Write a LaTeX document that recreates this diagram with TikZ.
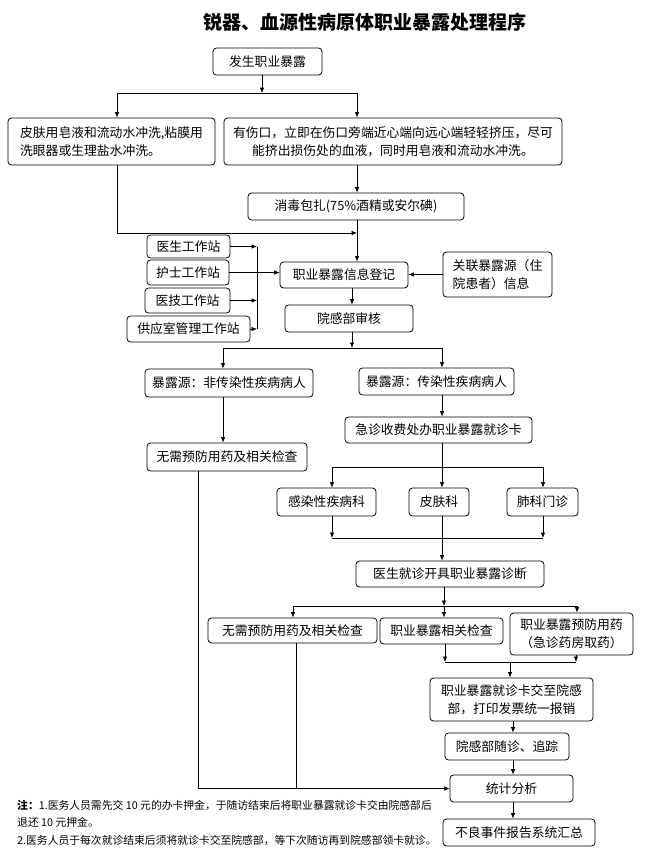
\documentclass[tikz,border=0pt]{standalone}
\usepackage{fontspec}
\setmainfont{Noto Sans CJK SC}
\usetikzlibrary{arrows.meta}

\begin{document}
\begin{tikzpicture}[x=1pt,y=-1pt,
  box/.style 2 args={draw,rounded corners=3.5pt,line width=0.8pt,
    minimum width=#1,minimum height=#2,inner sep=1pt,
    font=\fontsize{12.8}{18}\selectfont},
  wire/.style={line width=0.7pt},
  arr/.style={wire,-{Latex[length=5.5pt,width=4.5pt]}},
  note/.style={anchor=west,inner sep=0pt,font=\fontsize{10.8}{13}\selectfont}]
  \useasboundingbox (0,0) rectangle (646,859);

  \node[font=\bfseries\fontsize{19}{22}\selectfont] (title) at (365,22) {锐器、血源性病原体职业暴露处理程序};

  % first steps
  \node[box={109pt}{27pt}] (start) at (267.5,61.5) {发生职业暴露};
  \node[box={207pt}{47pt},align=left] (skin) at (111.5,141.5) {皮肤用皂液和流动水冲洗,粘膜用\\洗眼器或生理盐水冲洗。};
  \node[box={338pt}{47pt},align=center] (wound) at (393,141.5) {有伤口，立即在伤口旁端近心端向远心端轻轻挤压，尽可\\能挤出损伤处的血液，同时用皂液和流动水冲洗。};
  \node[box={216pt}{27pt}] (disinfect) at (356,206.5) {消毒包扎(75\%酒精或安尔碘)};

  % work stations
  \node[box={83pt}{23pt}] (doctor) at (188.5,246.5) {医生工作站};
  \node[box={82pt}{25pt}] (nurse) at (188,272.5) {护士工作站};
  \node[box={85pt}{25pt}] (tech) at (187.5,300.5) {医技工作站};
  \node[box={123pt}{26pt}] (supply) at (188.5,329) {供应室管理工作站};
  \node[box={128pt}{26pt}] (register) at (344,275) {职业暴露信息登记};
  \node[box={109pt}{45pt},align=left] (related) at (497.5,274.5) {关联暴露源（住\\院患者）信息};
  \node[box={128pt}{27pt}] (review) at (349,318.5) {院感部审核};

  % source of exposure
  \node[box={168pt}{28pt}] (nonsrc) at (229,383) {暴露源：非传染性疾病病人};
  \node[box={155pt}{27pt}] (infsrc) at (436.5,381.5) {暴露源：传染性疾病病人};
  \node[box={160pt}{28pt}] (nocheck1) at (227,457) {无需预防用药及相关检查};
  \node[box={187pt}{26pt}] (card) at (438.5,430) {急诊收费处办职业暴露就诊卡};
  \node[box={99pt}{28pt}] (infdept) at (326.5,502) {感染性疾病科};
  \node[box={60pt}{28pt}] (derm) at (439,502) {皮肤科};
  \node[box={71pt}{28pt}] (lung) at (542.5,502) {肺科门诊};
  \node[box={188pt}{26pt}] (diag) at (450,574) {医生就诊开具职业暴露诊断};
  \node[box={169pt}{25pt}] (nocheck2) at (292.5,630.5) {无需预防用药及相关检查};
  \node[box={123pt}{26pt}] (exam) at (441.5,631) {职业暴露相关检查};
  \node[box={123pt}{42pt},align=center] (drug) at (571.5,634) {职业暴露预防用药\\（急诊药房取药）};
  \node[box={163pt}{43pt},align=center] (hand) at (511.5,699.5) {职业暴露就诊卡交至院感\\部，打印发票统一报销};
  \node[box={124pt}{27pt}] (follow) at (507,746.5) {院感部随诊、追踪};
  \node[box={123pt}{27pt}] (stats) at (511.5,788.5) {统计分析};
  \node[box={152pt}{27pt}] (adverse) at (519,832.5) {不良事件报告系统汇总};

  % notes
  \node[note] (note1) at (17,805) {\textbf{注：}1.医务人员需先交 10 元的办卡押金，于随访结束后将职业暴露就诊卡交由院感部后};
  \node[note] (note2) at (17,822.5) {退还 10 元押金。};
  \node[note] (note3) at (17,840) {2.医务人员于每次就诊结束后须将就诊卡交至院感部，等下次随访再到院感部领卡就诊。};

  % junction points
  \coordinate (s1) at (262,93);
  \coordinate (s1L) at (117,93);
  \coordinate (s1R) at (357,93);
  \coordinate (m1) at (357,233);
  \coordinate (bus) at (257,0);
  \coordinate (s2) at (352,348);
  \coordinate (s2L) at (223,348);
  \coordinate (s2R) at (442,348);
  \coordinate (s3L) at (332,467);
  \coordinate (s3R) at (543,467);
  \coordinate (m3L) at (332,538);
  \coordinate (m3R) at (543,538);
  \coordinate (s4L) at (293,606);
  \coordinate (s4M) at (444,606);
  \coordinate (s4R) at (577,606);
  \coordinate (m4L) at (445,662);
  \coordinate (m4M) at (510,662);
  \coordinate (m4R) at (576,662);
  \coordinate (c5) at (513,0);
  \coordinate (m5) at (198,788);
  \coordinate (m6) at (296,788);

  % connectors
  \draw[arr] (start.south -| s1) -- (s1);
  \draw[wire] (s1L) -- (s1R);
  \draw[arr] (s1L) -- (s1L |- skin.north);
  \draw[arr] (s1R) -- (s1R |- wound.north);
  \draw[arr] (wound.south -| s1R) -- (s1R |- disinfect.north);
  \draw[arr] (skin.south -| s1L) |- (m1);
  \draw[arr] (disinfect.south -| s1R) -- (s1R |- register.north);

  \draw[arr] (doctor.east) -- (doctor.east -| bus);
  \draw[arr] (tech.east) -- (tech.east -| bus);
  \draw[arr] (supply.east) -- (supply.east -| bus);
  \draw[wire] (doctor.east -| bus) -- (supply.east -| bus);
  \draw[arr] (nurse.east) -- (nurse.east -| register.west);
  \draw[arr] (related.west) -- (related.west -| register.east);
  \draw[arr] (register.south -| s2) -- (s2 |- review.north);

  \draw[arr] (review.south -| s2) -- (s2);
  \draw[wire] (s2L) -- (s2R);
  \draw[arr] (s2L) -- (s2L |- nonsrc.north);
  \draw[arr] (s2R) -- (s2R |- infsrc.north);
  \draw[arr] (nonsrc.south -| s2L) -- (s2L |- nocheck1.north);
  \draw[arr] (infsrc.south -| s2R) -- (s2R |- card.north);

  \draw[wire] (s3L) -- (s3R);
  \draw[arr] (s3L) -- (s3L |- infdept.north);
  \draw[arr] (s3R) -- (s3R |- lung.north);
  \draw[arr] (card.south -| s2R) -- (s2R |- derm.north);
  \draw[arr] (infdept.south -| m3L) -- (m3L);
  \draw[arr] (lung.south -| m3R) -- (m3R);
  \draw[wire] (m3L) -- (m3R);
  \draw[arr] (derm.south -| s2R) -- (s2R |- diag.north);

  \draw[arr] (diag.south -| s4M) -- (s4M);
  \draw[wire] (s4L) -- (s4R);
  \draw[arr] (s4L) -- (s4L |- nocheck2.north);
  \draw[arr] (s4M) -- (s4M |- exam.north);
  \draw[arr] (s4R) -- (s4R |- drug.north);
  \draw[arr] (exam.south -| m4L) -- (m4L);
  \draw[arr] (drug.south -| m4R) -- (m4R);
  \draw[wire] (m4L) -- (m4R);
  \draw[arr] (m4M) -- (m4M |- hand.north);

  \draw[arr] (hand.south -| c5) -- (c5 |- follow.north);
  \draw[arr] (follow.south -| c5) -- (c5 |- stats.north);
  \draw[arr] (stats.south -| c5) -- (c5 |- adverse.north);
  \draw[arr] (nocheck1.south -| m5) |- (stats.west);
  \draw[wire] (nocheck2.south -| m6) -- (m6);
\end{tikzpicture}
\end{document}
